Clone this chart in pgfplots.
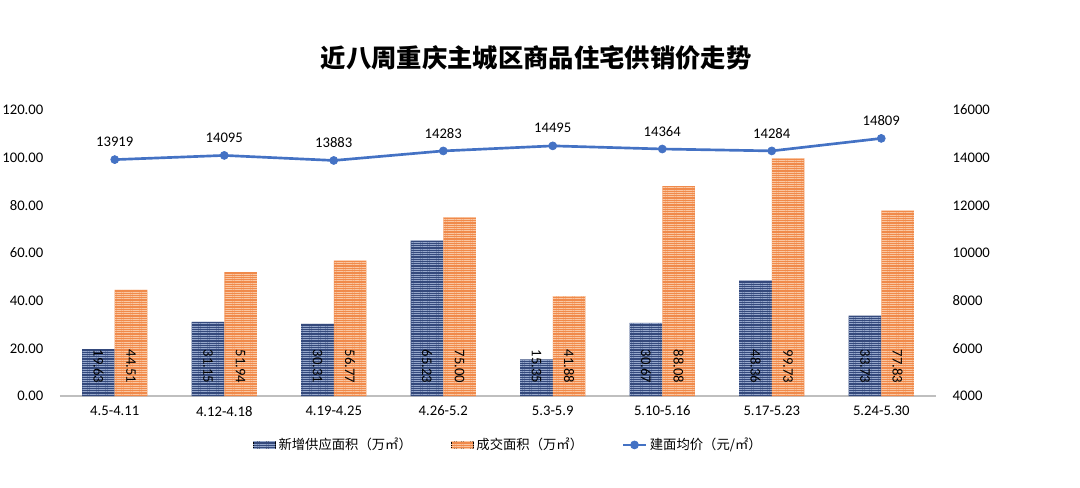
\documentclass[border=0pt]{standalone}
\usepackage{fontspec}
\setmainfont{Carlito}
\newfontfamily\cjk{Noto Sans CJK SC}
\usepackage{pgfplots}
\usepackage{pgfplotstable}
\pgfplotsset{compat=1.18}
\usetikzlibrary{patterns.meta}

\definecolor{supdark}{HTML}{34497C}
\definecolor{supline}{HTML}{95A7CB}
\definecolor{dealdark}{HTML}{F08A4B}
\definecolor{dealline}{HTML}{FAC7A2}
\definecolor{pricec}{HTML}{4472C4}
\definecolor{axisgray}{HTML}{BFBFBF}

\tikzset{
  supstripe/.style={pattern={Lines[angle=0,distance=1.7pt,line width=0.6pt]}, pattern color=supline},
  dealstripe/.style={pattern={Lines[angle=0,distance=1.7pt,line width=0.6pt]}, pattern color=dealline},
  numfont/.style={font=\fontsize{11}{13}\selectfont},
  barlabel/.style={yshift=6pt, rotate=-90, anchor=east, numfont, text=black, opacity=1,
    /pgf/number format/.cd, fixed, fixed zerofill, precision=2},
}

% xs / xd: centres of the supply / deal bars (category +- half a bar)
\pgfplotstableread{
x xs xd supply deal price zero
0 -0.1485 0.1485 19.63 44.51 13919 0
1 0.8515 1.1485 31.15 51.94 14095 0
2 1.8515 2.1485 30.31 56.77 13883 0
3 2.8515 3.1485 65.23 75.00 14283 0
4 3.8515 4.1485 15.35 41.88 14495 0
5 4.8515 5.1485 30.67 88.08 14364 0
6 5.8515 6.1485 48.36 99.73 14284 0
7 6.8515 7.1485 33.73 77.83 14809 0
}\data

\begin{document}
\begin{tikzpicture}
\useasboundingbox (-45pt,-68.25pt) rectangle (765pt,297pt);

\node[font=\cjk\bfseries\fontsize{19}{22}\selectfont] at (357pt,254pt) {近八周重庆主城区商品住宅供销价走势};

\begin{axis}[
  at={(0pt,0pt)}, anchor=south west,
  width=657pt, height=214.5pt, scale only axis,
  xmin=-0.5, xmax=7.5, ymin=0, ymax=120,
  axis lines*=left,
  x axis line style={draw=axisgray, line width=0.8pt, -},
  y axis line style={draw=none},
  major tick length=0pt,
  xtick={0,...,7},
  xticklabels={4.5-4.11,4.12-4.18,4.19-4.25,4.26-5.2,5.3-5.9,5.10-5.16,5.17-5.23,5.24-5.30},
  ytick={0,20,...,120},
  tick label style={numfont},
  xticklabel style={yshift=-4pt},
  yticklabel style={xshift=-9pt, /pgf/number format/.cd, fixed, fixed zerofill, precision=2},
  /pgf/number format/assume math mode=true,
  clip=false,
]
% solid bars, then stripes on top
\addplot[ybar, bar width=0.297, draw=none, fill=supdark] table[x=xs,y=supply]{\data};
\addplot[ybar, bar width=0.297, draw=none, supstripe] table[x=xs,y=supply]{\data};
\addplot[ybar, bar width=0.297, draw=none, fill=dealdark] table[x=xd,y=deal]{\data};
\addplot[ybar, bar width=0.297, draw=none, dealstripe] table[x=xd,y=deal]{\data};

% value labels at the foot of each bar
\addplot[draw=none, only marks, mark=*, mark size=0pt,
  nodes near coords, point meta=\thisrow{supply}, nodes near coords style={barlabel}]
  table[x=xs,y=zero]{\data};
\addplot[draw=none, only marks, mark=*, mark size=0pt,
  nodes near coords, point meta=\thisrow{deal}, nodes near coords style={barlabel}]
  table[x=xd,y=zero]{\data};
\end{axis}

\begin{axis}[
  at={(0pt,0pt)}, anchor=south west,
  width=657pt, height=214.5pt, scale only axis,
  xmin=-0.5, xmax=7.5, ymin=4000, ymax=16000,
  axis y line*=right, axis x line=none,
  y axis line style={draw=none},
  major tick length=0pt,
  ytick={4000,6000,...,16000},
  scaled y ticks=false,
  tick label style={numfont},
  yticklabel style={xshift=9pt, /pgf/number format/.cd, fixed, 1000 sep={}},
  /pgf/number format/assume math mode=true,
  clip=false,
  legend style={at={(0.512,-0.171)}, anchor=center, draw=none, fill=none,
    font=\cjk\fontsize{10}{12}\selectfont, legend columns=3,
    /tikz/every even column/.append style={column sep=27pt}},
  legend cell align=left,
]
\addlegendimage{area legend, draw=none, fill=supdark, postaction={supstripe}}
\addlegendentry{新增供应面积（万㎡）}
\addlegendimage{area legend, draw=none, fill=dealdark, postaction={dealstripe}}
\addlegendentry{成交面积（万㎡）}
\addplot[color=pricec, line width=2pt, mark=*, mark size=3pt,
  mark options={fill=pricec, draw=pricec, line width=0.5pt},
  nodes near coords, point meta=\thisrow{price},
  nodes near coords style={yshift=6pt, numfont, text=black,
    /pgf/number format/.cd, fixed, 1000 sep={}}]
  table[x=x,y=price]{\data};
\addlegendentry{建面均价（元/㎡）}
\end{axis}
\end{tikzpicture}
\end{document}
